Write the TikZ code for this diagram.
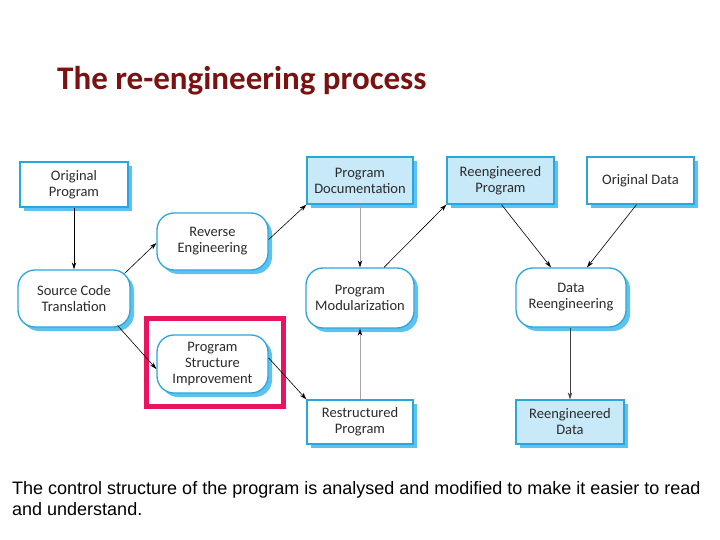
\documentclass[tikz,border=0pt]{standalone}
\usepackage{fontspec}
\setmainfont{Carlito}
\newfontfamily\arialfont{Liberation Sans}
\usetikzlibrary{shadows,arrows.meta,calc}
\definecolor{titlered}{HTML}{7A1212}
\definecolor{bordblue}{HTML}{2AA6DE}
\definecolor{shadblue}{HTML}{5CC3EE}
\definecolor{fillblue}{HTML}{C8E9F8}
\definecolor{hilite}{HTML}{E8145F}
\definecolor{boxtext}{HTML}{2B2B2B}
\tikzset{
  base/.style={draw=bordblue, line width=1.3pt, text=boxtext, align=center,
    font=\fontsize{14.5}{16}\selectfont, inner sep=0pt,
    drop shadow={shadow xshift=4pt, shadow yshift=-4pt, fill=shadblue, opacity=1}},
  rbox/.style={base, rectangle, fill=white},
  fbox/.style={base, rectangle, fill=fillblue},
  pbox/.style={base, rounded corners=17pt, fill=white},
  arr/.style={-{Stealth[length=7pt,width=4.5pt]}, line width=0.6pt, black},
  garr/.style={line width=0.6pt, draw=gray!70, arrows={-{Stealth[length=7pt,width=4.5pt,color=black]}}},
}
\begin{document}
\begin{tikzpicture}[x=1pt,y=-1pt]
\useasboundingbox (0,0) rectangle (720,540);
\fill[white] (0,0) rectangle (720,540);
\node[anchor=base west, text=titlered, font=\fontsize{33}{36}\selectfont\bfseries, inner sep=0pt] (title) at (57,90) {The re-engineering process};

\node[rbox, minimum width=108pt, minimum height=45pt] (op) at (74,184.5) {Original\\Program};
\node[pbox, minimum width=111pt, minimum height=57pt] (re) at (212.5,241.5) {Reverse\\Engineering};
\node[pbox, minimum width=112pt, minimum height=57pt] (sct) at (74,298.5) {Source Code\\Translation};
\node[pbox, minimum width=111pt, minimum height=58pt] (psi) at (212.5,364) {Program\\Structure\\Improvement};
\node[fbox, minimum width=106pt, minimum height=47pt] (pd) at (360,180.5) {Program\\Documentation};
\node[fbox, minimum width=107pt, minimum height=47pt] (rp) at (500.5,180.5) {Reengineered\\Program};
\node[rbox, minimum width=107pt, minimum height=47pt] (od) at (640.5,180.5) {Original Data};
\node[pbox, minimum width=108pt, minimum height=60pt] (pm) at (360,298) {Program\\Modularization};
\node[pbox, minimum width=110pt, minimum height=59pt] (dr) at (571,297.5) {Data\\Reengineering};
\node[rbox, minimum width=106pt, minimum height=44pt] (rsp) at (360,422) {Restructured\\Program};
\node[fbox, minimum width=108pt, minimum height=44pt] (rd) at (570,422) {Reengineered\\Data};

\node[draw=hilite, line width=5pt, minimum width=137pt, minimum height=88pt, inner sep=0pt] (hl) at (215,362.5) {};

\draw[arr, line width=0.9pt] (op.south) -- (sct.north);
\draw[arr] ($(sct.north east)+(-6,4)$) -- ($(re.west)+(0,1.5)$);
\draw[arr] ($(re.east)+(0,-2)$) -- (pd.south west);
\draw[arr] ($(sct.south east)+(-13,-2)$) -- ($(psi.west)+(0,5)$);
\draw[arr] ($(psi.east)+(0,-6)$) -- (rsp.north west);
\draw[garr] (pd.south) -- (pm.north);
\draw[garr] (rsp.north) -- (pm.south);
\draw[arr] ($(pm.north)+(24,0)$) -- (rp.south west);
\draw[arr] ($(rp.south)+(1,0)$) -- ($(dr.north)+(-20,0)$);
\draw[arr] ($(od.south)+(-4,0)$) -- ($(dr.north)+(16,0)$);
\draw[arr, draw=black!75] ($(dr.south)+(-1,0)$) -- (rd.north);

\node[anchor=base west, align=left, font=\arialfont\fontsize{18}{20.5}\selectfont, inner sep=0pt] (cap) at (12,515) {The control structure of the program is analysed and modified to make it easier to read\\and understand.};
\end{tikzpicture}
\end{document}
